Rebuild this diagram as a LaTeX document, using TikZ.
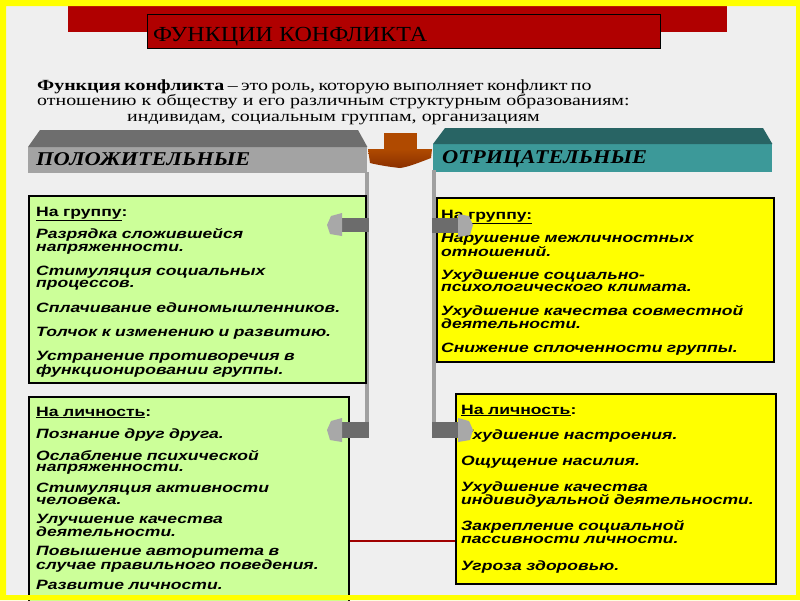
\documentclass[tikz,border=0pt]{standalone}
\usepackage{fontspec}
\setmainfont{Liberation Serif}
\newfontfamily\serifw[FakeStretch=1.285]{Liberation Serif}
\newfontfamily\titlef[FakeStretch=1.12]{Liberation Serif}
\newfontfamily\headf[FakeStretch=1.15]{Liberation Serif}
\newfontfamily\bodyf[FakeStretch=1.3]{Liberation Sans}
\setlength{\lineskiplimit}{-100pt}
\setlength{\lineskip}{0pt}
\definecolor{bg}{HTML}{EFEFEF}
\definecolor{frameY}{HTML}{FFFF00}
\definecolor{titleR}{HTML}{B00000}
\definecolor{grayTop}{HTML}{6E6E6E}
\definecolor{grayFront}{HTML}{A3A3A3}
\definecolor{tealTop}{HTML}{286464}
\definecolor{tealFront}{HTML}{3C9999}
\definecolor{boxG}{HTML}{CCFF99}
\definecolor{boxY}{HTML}{FFFF00}
\definecolor{lineG}{HTML}{A0A0A0}
\definecolor{barD}{HTML}{6C6C6C}
\definecolor{headL}{HTML}{A8A8A8}
\definecolor{brownA}{HTML}{B04A00}
\definecolor{brownB}{HTML}{8A3000}
\definecolor{redL}{HTML}{A00000}
\newcommand{\boxhead}[1]{{\upshape #1}}
\tikzset{
  boxbase/.style={draw=black, line width=2.2pt, anchor=north west, inner sep=0pt},
  gbox/.style={boxbase, fill=boxG},
  ybox/.style={boxbase, fill=boxY},
  facebox/.style={anchor=north west, inner sep=0pt, minimum width=339pt},
  headtext/.style={anchor=base west, inner sep=0pt, font=\headf\bfseries\itshape\fontsize{19.5}{19.5}\selectfont},
  bodytext/.style={anchor=base west, inner sep=0pt, align=left,
    font=\bodyf\bfseries\itshape\fontsize{13.5}{#1}\selectfont},
  bar/.style={fill=barD},
  head/.style={fill=headL},
}
\begin{document}
\begin{tikzpicture}[x=1pt,y=-1pt]
\useasboundingbox (0,0) rectangle (800,600);
\fill[bg] (0,0) rectangle (800,600);
% title
\fill[titleR] (68,6) rectangle (727,32);
\node[anchor=north west, fill=titleR, draw=black, line width=0.8pt, minimum width=513pt, minimum height=34pt, inner sep=0pt] (title) at (147,14) {};
\node[anchor=base west, inner sep=0pt, font=\titlef\fontsize{21.5}{21.5}\selectfont] (titletext) at (153,41) {ФУНКЦИИ КОНФЛИКТА};
% definition
\node[anchor=base west, inner sep=0pt, text width=740pt, align=left, font=\serifw\fontsize{15.5}{15.5}\selectfont] (def) at (37,90)
 {{\spaceskip=3.4pt plus 1pt\textbf{Функция конфликта} – это роль, которую выполняет конфликт по}\\
  отношению к обществу и его различным структурным образованиям:\\
  \hspace*{90pt}индивидам, социальным группам, организациям};
% header bars
\node[facebox, fill=grayFront, minimum height=26pt] (posH) at (28,147) {};
\fill[grayTop] (posH.north west) -- ++(12,-17) -- ++(318,0) -- (posH.north east) -- cycle;
\node[headtext] (posT) at (36,165) {ПОЛОЖИТЕЛЬНЫЕ};
\node[facebox, fill=tealFront, minimum height=28pt] (negH) at (433,144) {};
\fill[tealTop] (negH.north west) -- ++(12,-16) -- ++(318,0) -- (negH.north east) -- cycle;
\node[headtext] (negT) at (442,163) {ОТРИЦАТЕЛЬНЫЕ};
% brown centre piece
\fill[brownA] (384,133) rectangle (417,150);
\shade[top color=brownA, bottom color=brownB] (368,149) -- (432,149) -- (431,158) .. controls (418,163) and (408,167) .. (400,168) .. controls (390,167) and (378,165) .. (370,163) -- cycle;
% vertical lines
\node[anchor=north west, fill=lineG, inner sep=0pt, minimum width=4pt, minimum height=266pt] (vl) at (365,172) {};
\node[anchor=north west, fill=lineG, inner sep=0pt, minimum width=4pt, minimum height=268pt] (vr) at (432,170) {};
% boxes
\node[gbox, minimum width=337pt, minimum height=187pt] (pg) at (28,195) {};
\node[ybox, minimum width=337pt, minimum height=164pt] (ng) at (436,197) {};
\node[gbox, minimum width=320pt, minimum height=214pt] (pl) at (28,396) {};
\node[ybox, minimum width=320pt, minimum height=190pt] (nl) at (455,393) {};
% texts
\node[bodytext=12.5, text width=325pt] (pgt) at (36,216)
 {\boxhead{\underline{На группу}:}\\[7pt]
  Разрядка сложившейся\\ напряженности.\\[11.5pt]
  Стимуляция социальных\\ процессов.\\[11.5pt]
  Сплачивание единомышленников.\\[11.5pt]
  Толчок к изменению и развитию.\\[11.5pt]
  Устранение противоречия в\\ функционировании группы.};
\node[bodytext=12, text width=325pt] (ngt) at (441,219)
 {\boxhead{\underline{На группу:}}\\[8pt]
  Нарушение межличностных\\ отношений.\\[11pt]
  Ухудшение социально-\\ психологического климата.\\[12pt]
  Ухудшение качества совместной\\ деятельности.\\[12pt]
  Снижение сплоченности группы.};
\node[bodytext=11.5, text width=310pt] (plt) at (36,416)
 {\boxhead{\underline{На личность}:}\\[9.5pt]
  Познание друг друга.\\[8pt]
  Ослабление психической\\ напряженности.\\[7.5pt]
  Стимуляция активности\\ человека.\\[7.5pt]
  Улучшение качества\\ деятельности.\\[7.5pt]
  Повышение авторитета в\\ случае правильного поведения.\\[7pt]
  Развитие личности.};
\node[bodytext=13, text width=310pt] (nlt) at (461,414)
 {\boxhead{\underline{На личность}:}\\[12pt]
  Ухудшение настроения.\\[13pt]
  Ощущение насилия.\\[13pt]
  Ухудшение качества\\ индивидуальной деятельности.\\[13pt]
  Закрепление социальной\\ пассивности личности.\\[14pt]
  Угроза здоровью.};
% connector arrows
\fill[bar] (342,218) rectangle (vl.east |- 0,232);
\fill[head] (342,213) -- (331,216) -- (327,225) -- (330,234) -- (342,236) -- cycle;
\fill[bar] (vr.west |- 0,218) rectangle (459,233);
\fill[head] (458,214) -- (469,216) -- (473,225) -- (470,235) -- (458,237) -- cycle;
\fill[bar] (342,422) rectangle (vl.east |- 0,438);
\fill[head] (342,418) -- (331,421) -- (327,430) -- (330,440) -- (342,442) -- cycle;
\fill[bar] (vr.west |- 0,422) rectangle (459,438);
\fill[head] (458,418) -- (469,421) -- (473,430) -- (470,440) -- (458,442) -- cycle;
% red line
\coordinate (ry) at (0,541);
\draw[redL, line width=1.5pt] (pl.east |- ry) -- (nl.west |- ry);
% frame
\fill[frameY, even odd rule] (0,0) rectangle (800,600) (6,6) rectangle (796,595);
\end{tikzpicture}
\end{document}
